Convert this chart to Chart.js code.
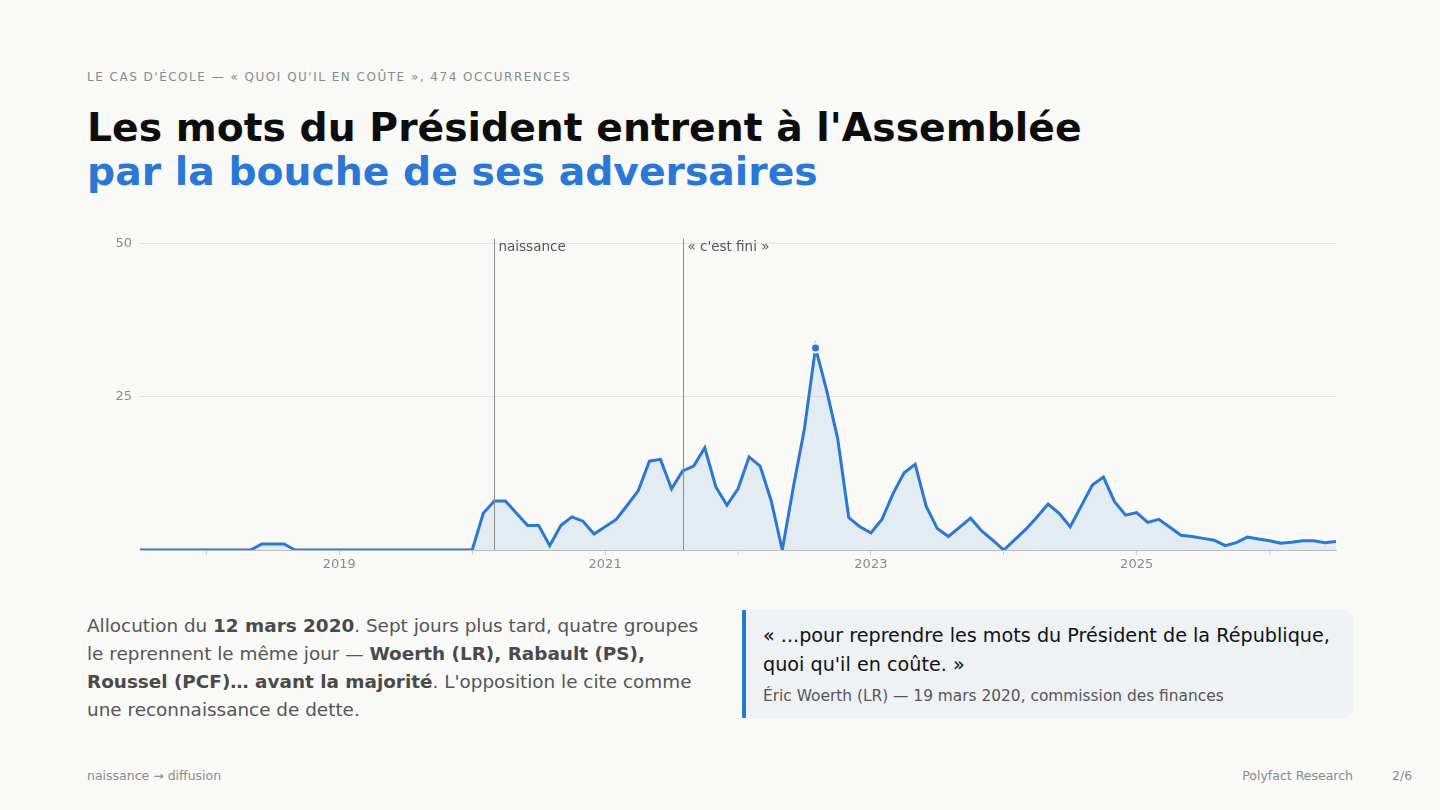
<!DOCTYPE html>
<html lang="fr">
<head>
<meta charset="utf-8">
<script src="https://cdn.jsdelivr.net/npm/chart.js@4"></script>
<style>
  html, body { margin: 0; padding: 0; }
  body { width: 1440px; height: 810px; background: #f9f9f7; font-family: "DejaVu Sans", sans-serif; position: relative; overflow: hidden; }
  .eyebrow { position: absolute; left: 87px; top: 70px; font-size: 12px; letter-spacing: 1.5px; color: #8a8a8a; }
  .title { position: absolute; left: 87px; top: 106px; font-size: 39.3px; font-weight: bold; line-height: 44px; color: #0d0d0d; }
  .title span { color: #2a78d6; }
  .chartbox { position: absolute; left: 100px; top: 228px; width: 1250px; height: 352px; }
  .lede { position: absolute; left: 87px; top: 612px; width: 622px; font-size: 18.4px; line-height: 28px; color: #555; }
  .lede b { color: #4a4a4a; }
  .quote { position: absolute; left: 742px; top: 610px; width: 611px; height: 108px; box-sizing: border-box; background: #eef2f5; border-left: 4px solid #2a78d6; border-radius: 0 10px 10px 0; padding: 11px 10px 0 17px; }
  .quote .q { font-size: 19.2px; line-height: 29px; color: #111; }
  .quote .who { font-size: 15.4px; color: #555; margin-top: 8px; }
  .foot { position: absolute; top: 768px; font-size: 12.5px; color: #8a8a8a; }
</style>
</head>
<body>
<div class="eyebrow">LE CAS D'ÉCOLE — « QUOI QU'IL EN COÛTE », 474 OCCURRENCES</div>
<div class="title">Les mots du Président entrent à l'Assemblée<br><span>par la bouche de ses adversaires</span></div>
<div class="chartbox"><canvas id="lineChart"></canvas></div>
<div class="lede">Allocution du <b>12 mars 2020</b>. Sept jours plus tard, quatre groupes le reprennent le même jour — <b>Woerth (LR), Rabault (PS), Roussel (PCF)… avant la majorité</b>. L'opposition le cite comme une reconnaissance de dette.</div>
<div class="quote">
  <div class="q">« ...pour reprendre les mots du Président de la République, quoi qu'il en coûte. »</div>
  <div class="who">Éric Woerth (LR) — 19 mars 2020, commission des finances</div>
</div>
<div class="foot" style="left:87px">naissance → diffusion</div>
<div class="foot" style="right:87px">Polyfact Research</div>
<div class="foot" style="left:1392px">2/6</div>

<script>
// mois, de 2017-07 a 2026-07
var months = [];
for (var y = 2017; y <= 2026; y++) {
    for (var m = 1; m <= 12; m++) {
        if ((y == 2017 && m < 7) || (y == 2026 && m > 7)) continue;
        months.push(y + '-' + (m < 10 ? '0' + m : m));
    }
}

var occurrences = [
    0, 0, 0, 0, 0, 0, 0, 0, 0, 0, 0, 1, 1, 1, 0, 0, 0, 0,          // 2017-07 .. 2018-12
    0, 0, 0, 0, 0, 0, 0, 0, 0, 0, 0, 0,                            // 2019
    0, 6, 8, 8, 6, 4, 4, 0.7, 4, 5.4, 4.7, 2.6,                    // 2020
    3.8, 5, 7.3, 9.7, 14.5, 14.8, 10, 12.9, 13.7, 16.7, 10.3, 7.3, // 2021
    10, 15.2, 13.7, 8, 0, 10.3, 19.8, 33, 26.1, 18.2, 5.3, 3.8,    // 2022
    2.8, 5, 9.2, 12.6, 14, 7.1, 3.5, 2.2, 3.7, 5.2, 3.1, 1.6,      // 2023
    0, 1.7, 3.4, 5.4, 7.5, 6, 3.8, 7.2, 10.6, 11.9, 7.9, 5.7,      // 2024
    6.1, 4.5, 5, 3.7, 2.4, 2.2, 1.9, 1.6, 0.7, 1.2, 2.1, 1.8,      // 2025
    1.5, 1.1, 1.25, 1.5, 1.5, 1.2, 1.4                             // 2026
];

var yTicks = [25, 50];
var markers = [
    { month: '2020-03', label: 'naissance' },
    { month: '2021-08', label: '« c\'est fini »' }
];

var peak = occurrences.indexOf(Math.max.apply(null, occurrences));

var markerLines = {
    id: 'markerLines',
    afterDatasetsDraw: function(chart) {
        var c = chart.ctx, area = chart.chartArea, xs = chart.scales.x;
        c.save();
        markers.forEach(function(mk) {
            var x = Math.round(xs.getPixelForValue(months.indexOf(mk.month))) + 0.5;
            c.strokeStyle = '#8c8c8c';
            c.lineWidth = 1;
            c.beginPath();
            c.moveTo(x, area.top - 5);
            c.lineTo(x, area.bottom);
            c.stroke();
            c.fillStyle = '#555';
            c.font = '13.5px "DejaVu Sans"';
            c.textBaseline = 'middle';
            c.fillText(mk.label, x + 4, area.top + 4);
        });
        c.restore();
    }
};

var ctx = document.getElementById('lineChart');
var myChart = new Chart(ctx, {
    type: 'line',
    data: {
        labels: months,
        datasets: [{
            data: occurrences,
            borderColor: '#2a78d6',
            borderWidth: 3,
            tension: 0,
            pointRadius: function(c) { return c.dataIndex == peak ? 4.5 : 0; },
            pointBackgroundColor: '#2a78d6',
            pointBorderColor: '#f9f9f7',
            pointBorderWidth: 2,
            fill: {
                target: 'origin',
                above: 'rgba(42, 120, 214, 0.1)'
            }
        }]
    },
    options: {
        responsive: true,
        maintainAspectRatio: false,
        animation: false,
        layout: { padding: { top: 10, right: 14 } },
        plugins: {
            legend: { display: false },
            tooltip: { enabled: false }
        },
        scales: {
            x: {
                afterFit: function(s) { s.height = 30; },
                border: { color: '#bdbdbd' },
                grid: {
                    drawOnChartArea: false,
                    tickLength: 5,
                    color: function(c) {
                        var l = months[c.index];
                        return l && l.slice(5) == '01' ? '#cfcfcf' : 'rgba(0,0,0,0)';
                    }
                },
                ticks: {
                    autoSkip: false,
                    maxRotation: 0,
                    padding: 2,
                    color: '#8a8a8a',
                    font: { family: 'DejaVu Sans', size: 13 },
                    callback: function(v, i) {
                        var l = months[i];
                        var yr = +l.slice(0, 4);
                        return (l.slice(5) == '01' && yr % 2 == 1) ? String(yr) : '';
                    }
                }
            },
            y: {
                min: 0,
                max: 50,
                afterFit: function(s) { s.width = 40; },
                afterBuildTicks: function(s) { s.ticks = yTicks.map(function(v) { return { value: v }; }); },
                border: { display: false },
                grid: { color: '#e2e2e0', drawTicks: false },
                ticks: {
                    padding: 8,
                    color: '#8a8a8a',
                    font: { family: 'DejaVu Sans', size: 13 }
                }
            }
        }
    },
    plugins: [markerLines]
});
</script>
</body>
</html>
